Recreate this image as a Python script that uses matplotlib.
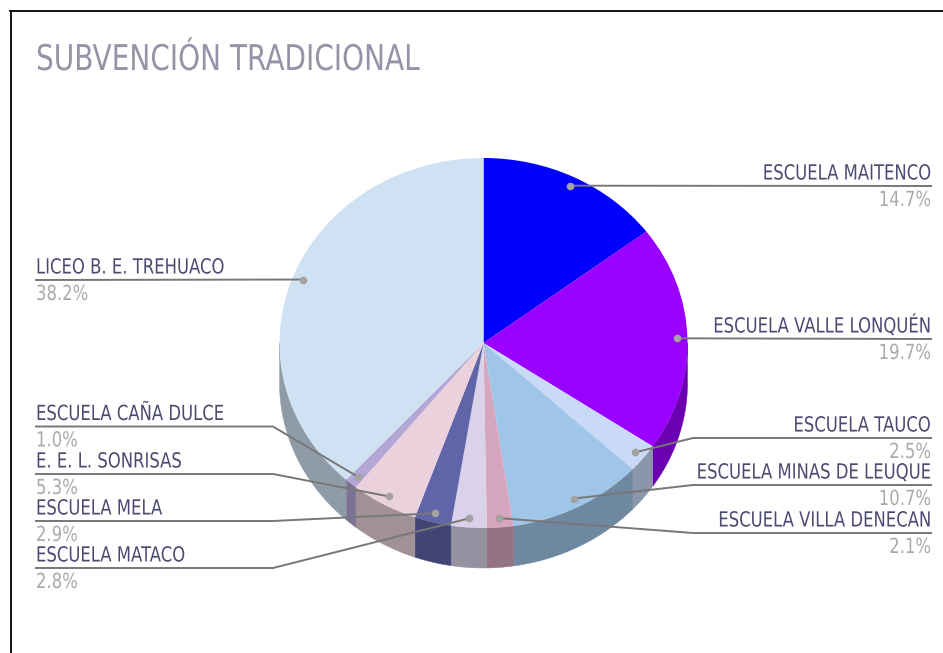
import matplotlib
matplotlib.use('Agg')
import matplotlib.pyplot as plt
import numpy as np
from matplotlib.colors import to_rgb
from matplotlib.patheffects import AbstractPathEffect
from matplotlib.transforms import Affine2D

names = ['ESCUELA MAITENCO', 'ESCUELA VALLE LONQUÉN', 'ESCUELA TAUCO',
         'ESCUELA MINAS DE LEUQUE', 'ESCUELA VILLA DENECAN', 'ESCUELA MATACO',
         'ESCUELA MELA', 'E. E. L. SONRISAS', 'ESCUELA CAÑA DULCE',
         'LICEO B. E. TREHUACO']
shares = [14.7, 19.7, 2.5, 10.7, 2.1, 2.8, 2.9, 5.3, 1.0, 38.2]
colors = ['#0000ff', '#9900ff', '#c9daf8', '#9fc5e8', '#d5a6bd',
          '#d9d2e9', '#6064a8', '#ead1dc', '#b4a7d6', '#cfe2f3']

W, H = 943, 653
cx, cy, rx, ry, depth = 483.5, 343, 204, 185, 40


class Squeeze(AbstractPathEffect):
    # the reference font is narrow, none installed is, so squeeze glyphs in x
    def __init__(self, x0, sx=0.79):
        super().__init__()
        self.x0 = x0
        self.sx = sx

    def draw_path(self, renderer, gc, tpath, affine, rgbFace=None):
        squeeze = Affine2D().translate(-self.x0, 0).scale(self.sx, 1).translate(self.x0, 0)
        renderer.draw_path(gc, tpath, affine + squeeze, rgbFace)


fig = plt.figure(figsize=(W / 100, H / 100), dpi=100)

# pie axes: unit circle is stretched to the ellipse by the limits
ax = fig.add_axes([0, 0, 1, 1])
ax.pie(shares, colors=colors, startangle=90, counterclock=False, radius=1,
       wedgeprops={'linewidth': 0, 'zorder': 3})
ax.set_aspect('auto')
ax.set_xlim(-cx / rx, (W - cx) / rx)
ax.set_ylim(-(H - cy) / ry, cy / ry)

# side walls, only the front half shows
d = depth / ry
total = sum(shares)
edges = 90 - np.cumsum([0] + shares) / total * 360
for i in range(len(shares)):
    t2, t1 = edges[i] % 360, edges[i + 1] % 360
    if t2 <= t1:
        t2 += 360
    lo, hi = max(t1, 180), min(t2, 360)
    if hi <= lo:
        continue
    t = np.radians(np.linspace(lo, hi, 80))
    x = np.cos(t)
    y = np.sin(t)
    wall = tuple(c * 0.69 for c in to_rgb(colors[i]))
    ax.fill(np.r_[x, x[::-1]], np.r_[y, y[::-1] - d], color=wall, lw=0.3, zorder=2)

# overlay in pixels for labels and leader lines
ov = fig.add_axes([0, 0, 1, 1])
ov.set_xlim(0, W)
ov.set_ylim(H, 0)
ov.axis('off')

ov.plot([10.5, 10.5], [11, H], color='black', lw=1.3)
ov.plot([10, W], [11, 11], color='black', lw=1.3)
ov.text(36, 70, 'SUBVENCIÓN TRADICIONAL', fontsize=25.5, color='#9493a8', va='baseline',
        path_effects=[Squeeze(36)])

# line height per label
line_y = [186, 339, 438, 485, 533, 568, 521, 474, 426.5, 280]
right = [True, True, True, True, True, False, False, False, False, False]
mid = np.cumsum([0] + shares)[:-1] + np.array(shares) / 2
for i, name in enumerate(names):
    a = np.radians(mid[i] / total * 360)
    px = cx + rx * 0.95 * np.sin(a)
    py = cy - ry * 0.95 * np.cos(a)
    if right[i]:
        xs = [px, 693, 931] if px < 693 and line_y[i] > 400 else [px, 931]
        tx, ha = 931, 'right'
    else:
        xs = [px, 273, 36] if px > 273 and line_y[i] > 400 else [px, 36]
        tx, ha = 36, 'left'
    ov.plot(xs, [py] + [line_y[i]] * (len(xs) - 1), color='#777777', lw=1.4,
            solid_joinstyle='miter', zorder=5)
    ov.plot(px, py, 'o', color='#a3a3a0', ms=4.5, zorder=6)
    ov.text(tx, line_y[i] - 6.5, name, ha=ha, va='baseline', fontsize=15, color='#4b4b72',
            path_effects=[Squeeze(tx)])
    ov.text(tx, line_y[i] + 20, '%.1f%%' % shares[i], ha=ha, va='baseline',
            fontsize=15, color='#aaaaaa', path_effects=[Squeeze(tx)])

fig.savefig('out.png', dpi=100)
